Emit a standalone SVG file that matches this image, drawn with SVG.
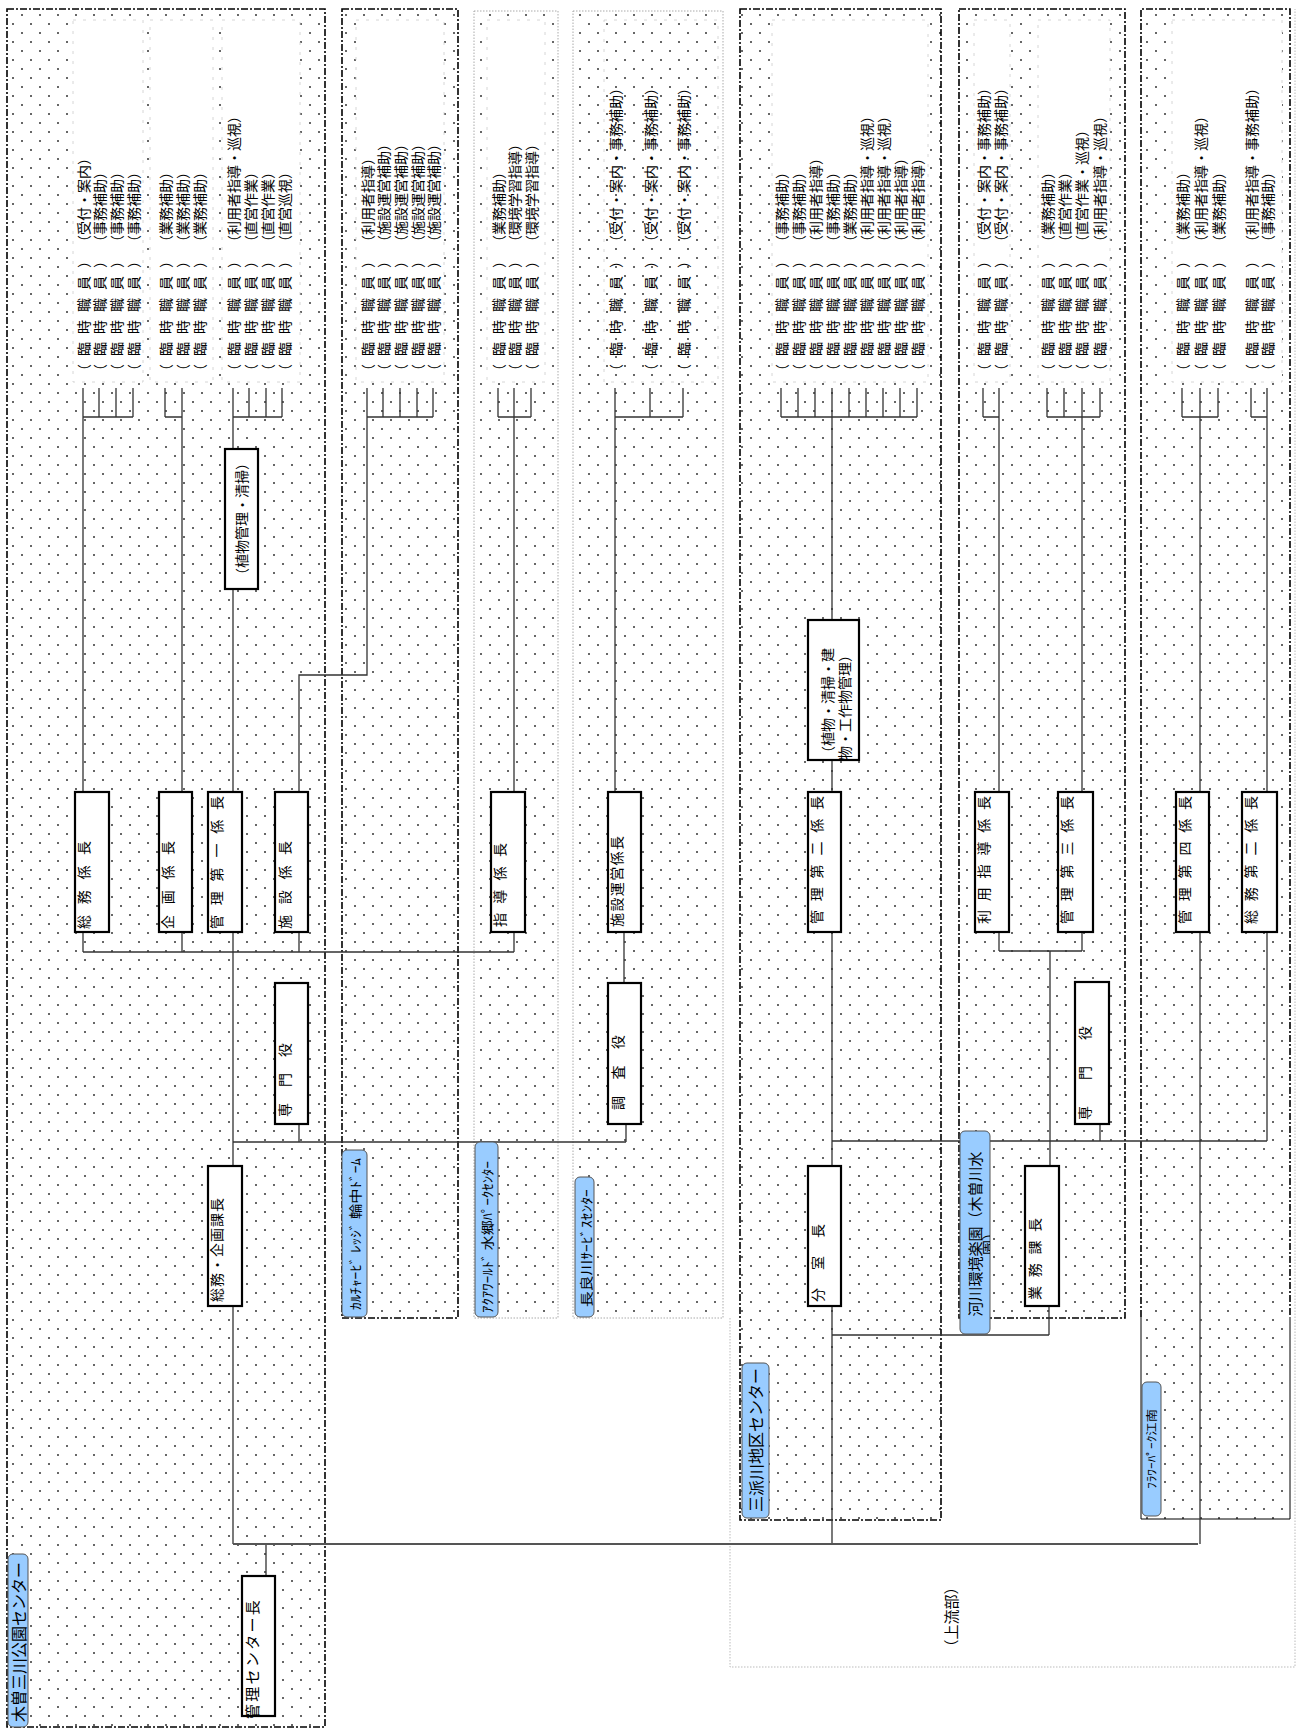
<svg xmlns="http://www.w3.org/2000/svg" width="1297" height="1729" viewBox="0 0 1297 1729">
<defs>
<pattern id="dots" width="18" height="18" patternUnits="userSpaceOnUse">
<circle cx="4" cy="15" r="1" fill="#333"/>
<circle cx="13" cy="6" r="1" fill="#333"/>
</pattern>
<clipPath id="tabclip"><rect x="960" y="1131" width="30" height="203" rx="5"/></clipPath>
<style>
.cont{fill:url(#dots);stroke:#000;stroke-width:1.6;stroke-dasharray:7 2 2 2}
.contl{fill:url(#dots);stroke:#aaa;stroke-width:1;stroke-dasharray:1.5 1.5}
.dotsonly{fill:url(#dots);stroke:none}
.dd{fill:none;stroke:#000;stroke-width:1.6;stroke-dasharray:7 2 2 2}
.thin{fill:none;stroke:#000;stroke-width:1}
.faint{fill:none;stroke:#bbb;stroke-width:1;stroke-dasharray:1.5 1.5}
.wb{fill:#fff;stroke:#ccc;stroke-width:0.8;stroke-dasharray:3 7}
.wbn{fill:none;stroke:#ccc;stroke-width:0.8;stroke-dasharray:3 7}
.box{fill:#fff;stroke:#000;stroke-width:2.2}
.tab{fill:#99CCFF;stroke:#555;stroke-width:1}
.ln{fill:none;stroke:#333;stroke-width:1.3}
.main{fill:none;stroke:#555;stroke-width:2.2}
text{font-family:"Noto Sans CJK JP","Noto Sans",sans-serif;dominant-baseline:central;fill:#000}
.s{font-size:14px}
.b{font-size:14px}
.t16{font-size:16px;text-anchor:middle}
.t15{font-size:15px;text-anchor:middle}
.t13{font-size:13px;text-anchor:middle}
.t11{font-size:11px;text-anchor:middle}
</style>
</defs>
<rect width="1297" height="1729" fill="#fff"/>

<!-- outer faint frame (上流部) -->
<path class="faint" d="M730,1318V1667H1295V9"/>

<!-- containers -->
<g id="containers">
<rect id="c-kiso" class="cont" x="7" y="9" width="318" height="1718"/>
<rect id="c-culture" class="cont" x="342" y="9" width="116" height="1309"/>
<rect id="c-aqua" class="contl" x="474" y="11" width="84" height="1307"/>
<rect id="c-nagara" class="contl" x="573" y="11" width="150" height="1307"/>
<rect id="c-sanpa" class="cont" x="740" y="9" width="201" height="1511"/>
<rect id="c-kasen" class="cont" x="959" y="9" width="166" height="1309"/>
<rect class="dotsonly" x="1141" y="9" width="149" height="1510"/>
<path class="thin" d="M1141,1317V1519H1290V1317"/>
<path id="c-flower" class="dd" d="M1141,1317V9H1290V1317"/>
</g>

<!-- staff lists -->
<g id="staff-kiso-soumu">
<rect class="wb" x="73" y="20" width="70" height="362"/>
<text class="s" transform="translate(83,378) rotate(-90)" textLength="124" lengthAdjust="spacing">（臨時職員）</text>
<text class="s" transform="translate(83,249) rotate(-90)">（受付・案内）</text>
<text class="s" transform="translate(99,378) rotate(-90)" textLength="124" lengthAdjust="spacing">（臨時職員）</text>
<text class="s" transform="translate(99,249) rotate(-90)">（事務補助）</text>
<text class="s" transform="translate(116,378) rotate(-90)" textLength="124" lengthAdjust="spacing">（臨時職員）</text>
<text class="s" transform="translate(116,249) rotate(-90)">（事務補助）</text>
<text class="s" transform="translate(133,378) rotate(-90)" textLength="124" lengthAdjust="spacing">（臨時職員）</text>
<text class="s" transform="translate(133,249) rotate(-90)">（事務補助）</text>
</g>
<g id="staff-kiso-kikaku">
<rect class="wb" x="150" y="20" width="63" height="362"/>
<text class="s" transform="translate(165,378) rotate(-90)" textLength="124" lengthAdjust="spacing">（臨時職員）</text>
<text class="s" transform="translate(165,249) rotate(-90)">（業務補助）</text>
<text class="s" transform="translate(182,378) rotate(-90)" textLength="124" lengthAdjust="spacing">（臨時職員）</text>
<text class="s" transform="translate(182,249) rotate(-90)">（業務補助）</text>
<text class="s" transform="translate(199,378) rotate(-90)" textLength="124" lengthAdjust="spacing">（臨時職員）</text>
<text class="s" transform="translate(199,249) rotate(-90)">（業務補助）</text>
</g>
<g id="staff-kiso-kanri1">
<rect class="wb" x="222" y="20" width="78" height="362"/>
<text class="s" transform="translate(233,378) rotate(-90)" textLength="124" lengthAdjust="spacing">（臨時職員）</text>
<text class="s" transform="translate(233,249) rotate(-90)">（利用者指導・巡視）</text>
<text class="s" transform="translate(250,378) rotate(-90)" textLength="124" lengthAdjust="spacing">（臨時職員）</text>
<text class="s" transform="translate(250,249) rotate(-90)">（直営作業）</text>
<text class="s" transform="translate(267,378) rotate(-90)" textLength="124" lengthAdjust="spacing">（臨時職員）</text>
<text class="s" transform="translate(267,249) rotate(-90)">（直営作業）</text>
<text class="s" transform="translate(284,378) rotate(-90)" textLength="124" lengthAdjust="spacing">（臨時職員）</text>
<text class="s" transform="translate(284,249) rotate(-90)">（直営巡視）</text>
</g>
<g id="staff-culture">
<rect class="wb" x="356" y="20" width="88" height="362"/>
<text class="s" transform="translate(367,378) rotate(-90)" textLength="124" lengthAdjust="spacing">（臨時職員）</text>
<text class="s" transform="translate(367,249) rotate(-90)">（利用者指導）</text>
<text class="s" transform="translate(383,378) rotate(-90)" textLength="124" lengthAdjust="spacing">（臨時職員）</text>
<text class="s" transform="translate(383,249) rotate(-90)">（施設運営補助）</text>
<text class="s" transform="translate(400,378) rotate(-90)" textLength="124" lengthAdjust="spacing">（臨時職員）</text>
<text class="s" transform="translate(400,249) rotate(-90)">（施設運営補助）</text>
<text class="s" transform="translate(417,378) rotate(-90)" textLength="124" lengthAdjust="spacing">（臨時職員）</text>
<text class="s" transform="translate(417,249) rotate(-90)">（施設運営補助）</text>
<text class="s" transform="translate(433,378) rotate(-90)" textLength="124" lengthAdjust="spacing">（臨時職員）</text>
<text class="s" transform="translate(433,249) rotate(-90)">（施設運営補助）</text>
</g>
<g id="staff-aqua">
<rect class="wb" x="487" y="20" width="58" height="362"/>
<text class="s" transform="translate(498,378) rotate(-90)" textLength="124" lengthAdjust="spacing">（臨時職員）</text>
<text class="s" transform="translate(498,249) rotate(-90)">（業務補助）</text>
<text class="s" transform="translate(514,378) rotate(-90)" textLength="124" lengthAdjust="spacing">（臨時職員）</text>
<text class="s" transform="translate(514,249) rotate(-90)">（環境学習指導）</text>
<text class="s" transform="translate(531,378) rotate(-90)" textLength="124" lengthAdjust="spacing">（臨時職員）</text>
<text class="s" transform="translate(531,249) rotate(-90)">（環境学習指導）</text>
</g>
<g id="staff-nagara">
<rect class="wbn" x="604" y="20" width="114" height="362"/>
<text class="s" transform="translate(615,378) rotate(-90)" textLength="124" lengthAdjust="spacing">（臨時職員）</text>
<text class="s" transform="translate(615,249) rotate(-90)">（受付・案内・事務補助）</text>
<text class="s" transform="translate(650,378) rotate(-90)" textLength="124" lengthAdjust="spacing">（臨時職員）</text>
<text class="s" transform="translate(650,249) rotate(-90)">（受付・案内・事務補助）</text>
<text class="s" transform="translate(683,378) rotate(-90)" textLength="124" lengthAdjust="spacing">（臨時職員）</text>
<text class="s" transform="translate(683,249) rotate(-90)">（受付・案内・事務補助）</text>
</g>
<g id="staff-sanpa">
<rect class="wb" x="772" y="20" width="156" height="362"/>
<text class="s" transform="translate(781,378) rotate(-90)" textLength="124" lengthAdjust="spacing">（臨時職員）</text>
<text class="s" transform="translate(781,249) rotate(-90)">（事務補助）</text>
<text class="s" transform="translate(798,378) rotate(-90)" textLength="124" lengthAdjust="spacing">（臨時職員）</text>
<text class="s" transform="translate(798,249) rotate(-90)">（事務補助）</text>
<text class="s" transform="translate(815,378) rotate(-90)" textLength="124" lengthAdjust="spacing">（臨時職員）</text>
<text class="s" transform="translate(815,249) rotate(-90)">（利用者指導）</text>
<text class="s" transform="translate(832,378) rotate(-90)" textLength="124" lengthAdjust="spacing">（臨時職員）</text>
<text class="s" transform="translate(832,249) rotate(-90)">（事務補助）</text>
<text class="s" transform="translate(849,378) rotate(-90)" textLength="124" lengthAdjust="spacing">（臨時職員）</text>
<text class="s" transform="translate(849,249) rotate(-90)">（業務補助）</text>
<text class="s" transform="translate(866,378) rotate(-90)" textLength="124" lengthAdjust="spacing">（臨時職員）</text>
<text class="s" transform="translate(866,249) rotate(-90)">（利用者指導・巡視）</text>
<text class="s" transform="translate(883,378) rotate(-90)" textLength="124" lengthAdjust="spacing">（臨時職員）</text>
<text class="s" transform="translate(883,249) rotate(-90)">（利用者指導・巡視）</text>
<text class="s" transform="translate(900,378) rotate(-90)" textLength="124" lengthAdjust="spacing">（臨時職員）</text>
<text class="s" transform="translate(900,249) rotate(-90)">（利用者指導）</text>
<text class="s" transform="translate(917,378) rotate(-90)" textLength="124" lengthAdjust="spacing">（臨時職員）</text>
<text class="s" transform="translate(917,249) rotate(-90)">（利用者指導）</text>
</g>
<g id="staff-kasen-riyou">
<rect class="wb" x="974" y="20" width="36" height="362"/>
<text class="s" transform="translate(983,378) rotate(-90)" textLength="124" lengthAdjust="spacing">（臨時職員）</text>
<text class="s" transform="translate(983,249) rotate(-90)">（受付・案内・事務補助）</text>
<text class="s" transform="translate(1000,378) rotate(-90)" textLength="124" lengthAdjust="spacing">（臨時職員）</text>
<text class="s" transform="translate(1000,249) rotate(-90)">（受付・案内・事務補助）</text>
</g>
<g id="staff-kasen-kanri3">
<rect class="wb" x="1038" y="20" width="72" height="362"/>
<text class="s" transform="translate(1047,378) rotate(-90)" textLength="124" lengthAdjust="spacing">（臨時職員）</text>
<text class="s" transform="translate(1047,249) rotate(-90)">（業務補助）</text>
<text class="s" transform="translate(1064,378) rotate(-90)" textLength="124" lengthAdjust="spacing">（臨時職員）</text>
<text class="s" transform="translate(1064,249) rotate(-90)">（直営作業）</text>
<text class="s" transform="translate(1081,378) rotate(-90)" textLength="124" lengthAdjust="spacing">（臨時職員）</text>
<text class="s" transform="translate(1081,249) rotate(-90)">（直営作業・巡視）</text>
<text class="s" transform="translate(1099,378) rotate(-90)" textLength="124" lengthAdjust="spacing">（臨時職員）</text>
<text class="s" transform="translate(1099,249) rotate(-90)">（利用者指導・巡視）</text>
</g>
<g id="staff-flower">
<rect class="wb" x="1172" y="20" width="110" height="362"/>
<text class="s" transform="translate(1182,378) rotate(-90)" textLength="124" lengthAdjust="spacing">（臨時職員）</text>
<text class="s" transform="translate(1182,249) rotate(-90)">（業務補助）</text>
<text class="s" transform="translate(1200,378) rotate(-90)" textLength="124" lengthAdjust="spacing">（臨時職員）</text>
<text class="s" transform="translate(1200,249) rotate(-90)">（利用者指導・巡視）</text>
<text class="s" transform="translate(1218,378) rotate(-90)" textLength="124" lengthAdjust="spacing">（臨時職員）</text>
<text class="s" transform="translate(1218,249) rotate(-90)">（業務補助）</text>
<text class="s" transform="translate(1251,378) rotate(-90)" textLength="124" lengthAdjust="spacing">（臨時職員）</text>
<text class="s" transform="translate(1251,249) rotate(-90)">（利用者指導・事務補助）</text>
<text class="s" transform="translate(1267,378) rotate(-90)" textLength="124" lengthAdjust="spacing">（臨時職員）</text>
<text class="s" transform="translate(1267,249) rotate(-90)">（事務補助）</text>
</g>

<!-- connectors -->
<g id="connectors">
<path class="ln" d="M83,388V417M99,388V417M116,388V417M133,388V417M83,417H133M83,417V792M83,932V952
M165,388V417M182,388V417M165,417H182M182,417V792M182,932V952
M233,388V417M249,388V417M266,388V417M282,388V417M233,417H282M233,417V1166M233,1306V1544
M367,388V417M383,388V417M400,388V417M417,388V417M433,388V417M367,417H433M367,417V675H299V792M299,932V952
M83,952H514
M498,388V417M514,388V417M531,388V417M498,417H531M514,417V792M514,932V952
M615,388V417M650,388V417M683,388V417M615,417H683M615,417V792M624,932V983M626,1124V1142
M233,1142H626M299,1124V1142
M266,1544V1576
M781,388V417M798,388V417M815,388V417M832,388V417M849,388V417M866,388V417M883,388V417M900,388V417M917,388V417M781,417H917
M832,417V1166M832,1306V1544M832,1335H1049M1049,1306V1335M832,1141H1267
M983,388V417M999,388V417M983,417H999M999,417V792M999,932V951
M1047,388V417M1064,388V417M1082,388V417M1100,388V417M1047,417H1100M1082,417V792M1082,932V951
M999,951H1082M1050,951V1166M1100,1124V1141
M1182,388V417M1200,388V417M1218,388V417M1182,417H1218M1200,417V792M1200,932V1544
M1251,388V417M1267,388V417M1251,417H1267M1267,417V792M1267,932V1141"/>
<path class="main" d="M233,1544H1198"/>
</g>

<!-- nodes -->
<g id="nodes">
<g id="n-soumu"><rect class="box" x="75" y="792" width="34" height="140"/><text class="b" transform="translate(83,929) rotate(-90)" letter-spacing="10.7">総務係長</text></g>
<g id="n-kikaku"><rect class="box" x="159" y="792" width="33" height="140"/><text class="b" transform="translate(167,929) rotate(-90)" letter-spacing="10.7">企画係長</text></g>
<g id="n-kanri1"><rect class="box" x="208" y="792" width="34" height="140"/><text class="b" transform="translate(216,929) rotate(-90)" letter-spacing="9.8">管理第一係長</text></g>
<g id="n-shisetsu"><rect class="box" x="275" y="792" width="33" height="140"/><text class="b" transform="translate(284,929) rotate(-90)" letter-spacing="10.7">施設係長</text></g>
<g id="n-senmon1"><rect class="box" x="275" y="983" width="33" height="141"/><text class="b" transform="translate(284,1117) rotate(-90)" letter-spacing="16">専門役</text></g>
<g id="n-kacho"><rect class="box" x="208" y="1166" width="34" height="140"/><text class="b" transform="translate(216,1302) rotate(-90)" letter-spacing="1">総務・企画課長</text></g>
<g id="n-center"><rect class="box" x="242" y="1576" width="33" height="140"/><text transform="translate(251,1719) rotate(-90)" style="font-size:15px" letter-spacing="2.3">管理センター長</text></g>
<g id="n-shokubutsu1"><rect class="box" x="225" y="449" width="33" height="140"/><text class="b" transform="translate(241,519) rotate(-90)" text-anchor="middle">（植物管理・清掃）</text></g>
<g id="n-shidou"><rect class="box" x="491" y="792" width="34" height="140"/><text class="b" transform="translate(499,927) rotate(-90)" letter-spacing="9.3">指導係長</text></g>
<g id="n-unei"><rect class="box" x="608" y="792" width="33" height="140"/><text class="b" transform="translate(616,927) rotate(-90)" letter-spacing="1.4">施設運営係長</text></g>
<g id="n-chousa"><rect class="box" x="608" y="983" width="33" height="141"/><text class="b" transform="translate(617,1110) rotate(-90)" letter-spacing="16.5">調査役</text></g>
<g id="n-shokubutsu2"><rect class="box" x="808" y="620" width="51" height="140"/>
<text class="b" transform="translate(827,760) rotate(-90)">（植物・清掃・建</text>
<text class="b" transform="translate(844,760) rotate(-90)">物・工作物管理）</text></g>
<g id="n-kanri2"><rect class="box" x="808" y="792" width="33" height="140"/><text class="b" transform="translate(816,924) rotate(-90)" letter-spacing="8.8">管理第二係長</text></g>
<g id="n-bunshitsu"><rect class="box" x="808" y="1166" width="33" height="140"/><text class="b" transform="translate(817,1302) rotate(-90)" letter-spacing="18">分室長</text></g>
<g id="n-riyou"><rect class="box" x="975" y="792" width="34" height="140"/><text class="b" transform="translate(983,924) rotate(-90)" letter-spacing="8.8">利用指導係長</text></g>
<g id="n-kanri3"><rect class="box" x="1058" y="792" width="35" height="140"/><text class="b" transform="translate(1066,924) rotate(-90)" letter-spacing="8.8">管理第三係長</text></g>
<g id="n-senmon2"><rect class="box" x="1075" y="982" width="34" height="142"/><text class="b" transform="translate(1084,1120) rotate(-90)" letter-spacing="26">専門役</text></g>
<g id="n-gyoumu"><rect class="box" x="1025" y="1166" width="34" height="140"/><text class="b" transform="translate(1034,1300) rotate(-90)" letter-spacing="8.7">業務課長</text></g>
<g id="n-kanri4"><rect class="box" x="1176" y="792" width="33" height="140"/><text class="b" transform="translate(1184,924) rotate(-90)" letter-spacing="8.8">管理第四係長</text></g>
<g id="n-soumu2"><rect class="box" x="1242" y="792" width="35" height="140"/><text class="b" transform="translate(1250,924) rotate(-90)" letter-spacing="8.8">総務第二係長</text></g>
</g>

<!-- tabs -->
<g id="tabs">
<g id="tab-kiso"><rect class="tab" x="8" y="1554" width="20" height="173" rx="5"/><text class="t16" transform="translate(18,1642) rotate(-90)">木曽三川公園センター</text></g>
<g id="tab-culture"><rect class="tab" x="342" y="1150" width="25" height="167" rx="5"/><text class="t13" transform="translate(354,1234) rotate(-90)" textLength="152" lengthAdjust="spacingAndGlyphs">ｶﾙﾁｬｰﾋﾞ ﾚｯｼﾞ 輪中ﾄﾞｰﾑ</text></g>
<g id="tab-aqua"><rect class="tab" x="475" y="1142" width="23" height="175" rx="5"/><text class="t13" transform="translate(486,1237) rotate(-90)" textLength="152" lengthAdjust="spacingAndGlyphs">ｱｸｱﾜｰﾙﾄﾞ 水郷ﾊﾟｰｸｾﾝﾀｰ</text></g>
<g id="tab-nagara"><rect class="tab" x="575" y="1177" width="19" height="140" rx="5"/><text class="t13" transform="translate(585,1248) rotate(-90)" textLength="118" lengthAdjust="spacingAndGlyphs">長良川ｻｰﾋﾞｽｾﾝﾀｰ</text></g>
<g id="tab-sanpa"><rect class="tab" x="742" y="1363" width="27" height="155" rx="5"/><text class="t16" transform="translate(755,1440) rotate(-90)">三派川地区センター</text></g>
<g id="tab-kasen"><rect class="tab" x="960" y="1131" width="30" height="203" rx="5"/>
<text class="t15" transform="translate(974,1234) rotate(-90)">河川環境楽園（木曽川水</text>
<g clip-path="url(#tabclip)"><text class="t15" transform="translate(988,1240) rotate(-90)">園）</text></g></g>
<g id="tab-flower"><rect class="tab" x="1142" y="1382" width="19" height="134" rx="5"/><text class="t11" transform="translate(1151,1449) rotate(-90)" textLength="80" lengthAdjust="spacingAndGlyphs">ﾌﾗﾜｰﾊﾟｰｸ江南</text></g>
</g>

<text class="t15" transform="translate(950,1617) rotate(-90)">（上流部）</text>
</svg>
